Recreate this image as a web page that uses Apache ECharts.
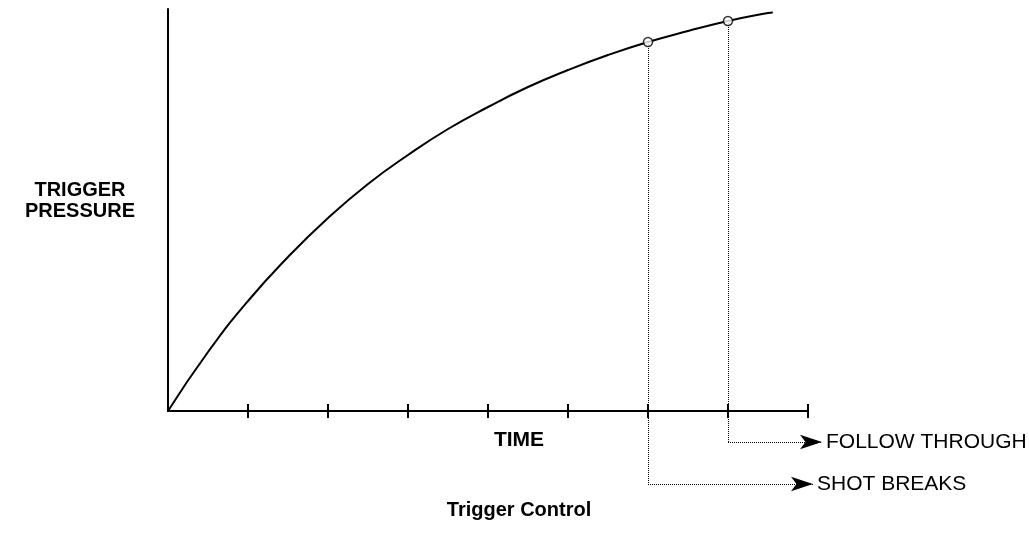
<!DOCTYPE html>
<html>
<head>
<meta charset="utf-8">
<script src="https://cdn.jsdelivr.net/npm/echarts@6/dist/echarts.min.js"></script>
<style>html,body{margin:0;padding:0;background:#fff;}#c{width:1029px;height:544px;}</style>
</head>
<body>
<div id="c"></div>
<script>
// time (tick units) and trigger pressure
var timeValues = [0, 0.5, 1, 1.5, 2, 2.5, 3, 3.5, 4, 4.5, 5, 5.5, 6, 6.5, 7, 7.5, 7.56];
var pressureValues = [0, 59, 110, 154, 193, 227, 256, 282, 304, 324, 341, 356, 369, 380, 390, 398, 398.5];
var tickValues = [1, 2, 3, 4, 5, 6, 7, 8];
var markTimes = [6, 7];
var markPressures = [369, 390];
var markNames = ['SHOT BREAKS', 'FOLLOW THROUGH'];
var leaderLevels = [-73, -31];
var arrowEnds = [8.0625, 8.175];

var curve = timeValues.map(function (t, i) { return [t, pressureValues[i]]; });
var marks = markTimes.map(function (t, i) { return [t, markPressures[i]]; });
var drops = markTimes.map(function (t, i) {
  return { coords: [[t, markPressures[i]], [t, leaderLevels[i]]] };
});
var arrows = markTimes.map(function (t, i) {
  return { name: markNames[i], coords: [[t, leaderLevels[i]], [arrowEnds[i], leaderLevels[i]]] };
});

var FONT = '"Liberation Sans", Arial, Helvetica, sans-serif';
var chart = echarts.init(document.getElementById('c'));
var xBase = { type: 'value', min: 0, max: 8, interval: 1, position: 'bottom', axisLabel: { show: false }, splitLine: { show: false } };
var dotted = { color: '#000', width: 1, type: [1, 1], opacity: 1 };
chart.setOption({
  animation: false,
  backgroundColor: '#fff',
  title: { text: 'Trigger Control', left: 514, top: 495, textAlign: 'center',
    textStyle: { fontFamily: FONT, fontSize: 20, fontWeight: 'bold', color: '#000' } },
  grid: { left: 168, top: 9, width: 640, height: 402, containLabel: false },
  xAxis: [
    Object.assign({}, xBase, { axisLine: { show: true, lineStyle: { color: '#000', width: 2 } },
      axisTick: { show: true, inside: true, length: 7, customValues: tickValues, lineStyle: { color: '#000', width: 2 } } }),
    Object.assign({}, xBase, { axisLine: { show: false },
      axisTick: { show: true, inside: false, length: 7, customValues: tickValues, lineStyle: { color: '#000', width: 2 } } })
  ],
  yAxis: { type: 'value', min: 0, max: 402, axisLine: { show: true, lineStyle: { color: '#000', width: 2 } },
    axisTick: { show: false }, axisLabel: { show: false }, splitLine: { show: false } },
  graphic: [
    { type: 'text', x: 80, y: 201, style: { text: 'TRIGGER\nPRESSURE', align: 'center', verticalAlign: 'middle',
      font: 'bold 20px ' + FONT, lineHeight: 21, fill: '#000' } },
    { type: 'text', x: 519, y: 440, style: { text: 'TIME', align: 'center', verticalAlign: 'middle',
      font: 'bold 21px ' + FONT, fill: '#000' } }
  ],
  series: [
    { type: 'line', data: curve, smooth: true, showSymbol: false, symbol: 'none', clip: false,
      lineStyle: { color: '#000', width: 2 }, z: 3 },
    { type: 'lines', coordinateSystem: 'cartesian2d', clip: false, data: drops,
      symbol: ['none', 'none'], lineStyle: dotted, z: 2 },
    { type: 'lines', coordinateSystem: 'cartesian2d', clip: false, data: arrows,
      symbol: ['none', 'arrow'], symbolSize: [1, [11, 22]], lineStyle: dotted,
      label: { show: true, position: 'end', distance: 4, formatter: '{b}', color: '#000', fontFamily: FONT, fontSize: 21 }, z: 2 },
    { type: 'scatter', data: marks, symbol: 'circle', symbolSize: 9, clip: false,
      itemStyle: { color: '#fff', borderColor: '#000', borderWidth: 1.5 }, z: 5 }
  ]
});
</script>
</body>
</html>
